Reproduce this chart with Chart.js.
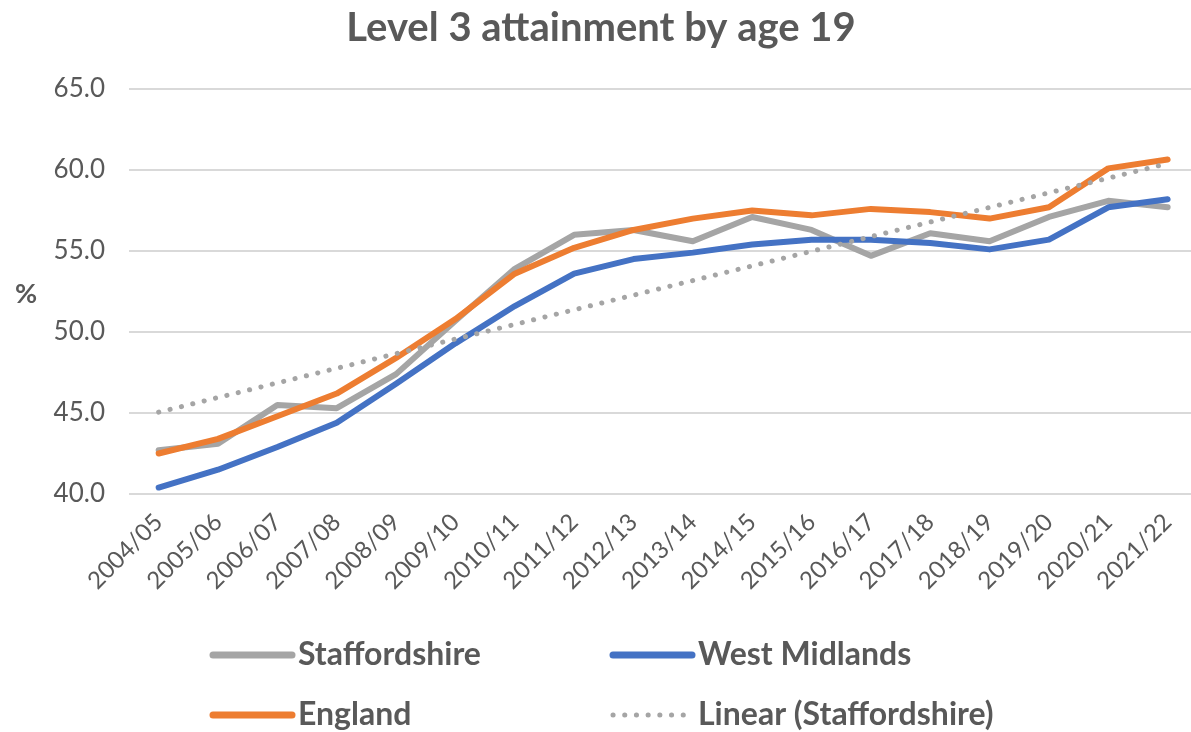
<!DOCTYPE html>
<html><head><meta charset="utf-8">
<script src="https://cdn.jsdelivr.net/npm/chart.js@4.4.1/dist/chart.umd.min.js"></script>
<style>
html,body{margin:0;padding:0;overflow:hidden;background:#fff;width:1191px;height:732px}
#wrap{position:absolute;left:0;top:0;width:1202px;height:732px}
</style></head>
<body><div id="wrap"><canvas id="c" width="1202" height="732" style="width:1202px;height:732px"></canvas></div>
<script>
const categories = ['2004/05','2005/06','2006/07','2007/08','2008/09','2009/10','2010/11','2011/12','2012/13','2013/14','2014/15','2015/16','2016/17','2017/18','2018/19','2019/20','2020/21','2021/22'];
const staffordshire = [42.7, 43.1, 45.5, 45.3, 47.4, 50.7, 53.9, 56.0, 56.3, 55.6, 57.1, 56.3, 54.7, 56.1, 55.6, 57.1, 58.1, 57.7];
const westMidlands = [40.4, 41.5, 42.9, 44.4, 46.8, 49.3, 51.6, 53.6, 54.5, 54.9, 55.4, 55.7, 55.7, 55.5, 55.1, 55.7, 57.7, 58.2];
const england = [42.5, 43.4, 44.8, 46.2, 48.4, 50.8, 53.6, 55.2, 56.3, 57.0, 57.5, 57.2, 57.6, 57.4, 57.0, 57.7, 60.1, 60.65];
const linearStaffordshire = [45.05, null, null, null, null, null, null, null, null, null, null, null, null, null, null, null, null, 60.4];
const yMin = 40, yMax = 65, yStep = 5;
const titleText = 'Level 3 attainment by age 19';
const yAxisLabel = '%';

const TXT = '#595959';
const FONT = 'Lato, "Open Sans", sans-serif';

const extraText = {
  id: 'extraText',
  afterDraw(chart) {
    const ctx = chart.ctx;
    ctx.save();
    ctx.fillStyle = TXT;
    ctx.font = 'bold 27px ' + FONT;
    ctx.textAlign = 'center';
    ctx.textBaseline = 'middle';
    ctx.fillText(yAxisLabel, 26, 294);
    // legend grid
    const cells = [[210, 655], [610, 655], [210, 715], [610, 715]];
    chart.data.datasets.forEach((ds, i) => {
      const [x, y] = cells[i];
      ctx.save();
      ctx.strokeStyle = ds.borderColor;
      ctx.lineCap = 'round';
      if (ds.borderDash && ds.borderDash.length) {
        ctx.lineWidth = ds.borderWidth;
        ctx.setLineDash(ds.borderDash);
      } else {
        ctx.lineWidth = 7;
      }
      ctx.beginPath();
      ctx.moveTo(x + 3, y);
      ctx.lineTo(x + 82, y);
      ctx.stroke();
      ctx.restore();
      ctx.fillStyle = TXT;
      ctx.font = 'bold 32px ' + FONT;
      ctx.textAlign = 'left';
      ctx.textBaseline = 'middle';
      ctx.fillText(ds.label, x + 88, y);
    });
    ctx.restore();
  }
};

new Chart(document.getElementById('c'), {
  type: 'line',
  data: {
    labels: categories,
    datasets: [
      { label: 'Staffordshire', data: staffordshire, borderColor: '#A5A5A5', backgroundColor: '#A5A5A5', borderWidth: 6, order: 3 },
      { label: 'West Midlands', data: westMidlands, borderColor: '#4472C4', backgroundColor: '#4472C4', borderWidth: 6, order: 2 },
      { label: 'England', data: england, borderColor: '#ED7D31', backgroundColor: '#ED7D31', borderWidth: 6, order: 1 },
      { label: 'Linear (Staffordshire)', data: linearStaffordshire, borderColor: '#A5A5A5', backgroundColor: '#A5A5A5', borderWidth: 5, borderDash: [0.1, 11.6], borderCapStyle: 'round', spanGaps: true, order: 0 }
    ]
  },
  options: {
    responsive: false,
    animation: false,
    layout: { padding: { left: 0, right: 0, top: 0, bottom: 0 } },
    elements: {
      point: { radius: 0, hoverRadius: 0 },
      line: { tension: 0, borderCapStyle: 'round', borderJoinStyle: 'round', fill: false }
    },
    plugins: {
      legend: { display: false },
      tooltip: { enabled: false },
      title: {
        display: true, text: titleText, color: TXT,
        font: { family: FONT, size: 40, weight: 'bold' },
        padding: { top: 4, bottom: 37 }
      }
    },
    scales: {
      x: {
        offset: true,
        grid: { display: false, drawTicks: false },
        border: { display: false },
        ticks: { color: TXT, font: { family: FONT, size: 24 }, minRotation: 45, maxRotation: 45, autoSkip: false, padding: 14 },
        afterFit(s) { s.height = 238; }
      },
      y: {
        min: yMin, max: yMax,
        grid: { color: '#D9D9D9', lineWidth: 2, drawTicks: false },
        border: { display: false },
        ticks: { stepSize: yStep, color: TXT, font: { family: FONT, size: 26 }, padding: 24, callback: v => Number(v).toFixed(1) },
        afterFit(s) { s.width = 129; }
      }
    }
  },
  plugins: [extraText]
});
</script>
</body></html>
